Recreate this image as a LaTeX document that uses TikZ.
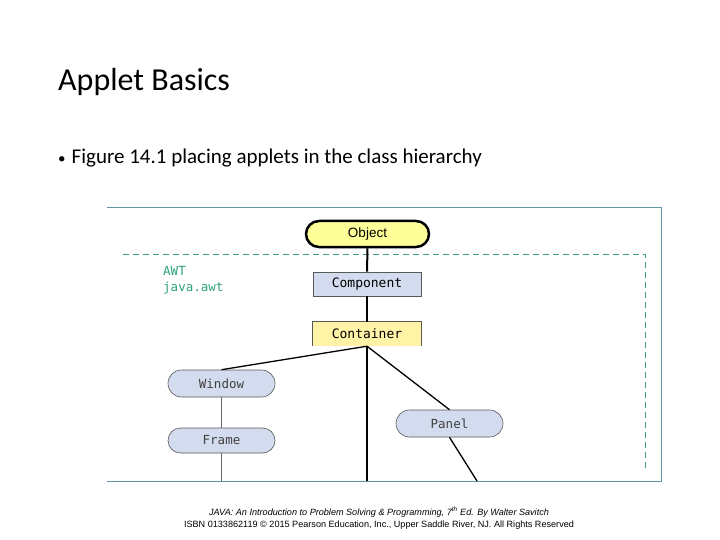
\documentclass[tikz,border=0pt]{standalone}
\usepackage{fontspec}
\setmainfont{Carlito}
\newfontfamily\arialf{Liberation Sans}
\newfontfamily\monof{DejaVu Sans Mono}
\usetikzlibrary{shapes.misc}
\definecolor{framec}{HTML}{5E94A4}
\definecolor{dashc}{HTML}{3E9C88}
\definecolor{awtc}{HTML}{2FA080}
\definecolor{bluef}{HTML}{D3DBEE}
\definecolor{yelf}{HTML}{FFFF99}
\definecolor{contf}{HTML}{FFF3A6}
\begin{document}
\begin{tikzpicture}[x=1pt,y=-1pt,
  pill/.style={rounded rectangle, fill=bluef, draw=black!65, line width=0.6pt, inner sep=0pt, minimum width=107pt, minimum height=27pt, font=\monof\fontsize{12.5}{14}\selectfont, text=black!75},
  rectbox/.style={rectangle, inner sep=0pt, minimum width=108pt, minimum height=24pt, font=\monof\fontsize{13}{14}\selectfont},
  mainline/.style={line width=2pt, black},
  subline/.style={line width=1.3pt, black},
  thinline/.style={line width=0.9pt, black!60}]
\useasboundingbox (0,0) rectangle (720,540);
\fill[white] (0,0) rectangle (720,540);
\node[anchor=west, font=\fontsize{32}{36}\selectfont, inner sep=0pt] (title) at (58,82) {Applet Basics};
\node[anchor=west, font=\fontsize{21}{24}\selectfont, inner sep=0pt] (bullet) at (58,158) {{\fontsize{15}{15}\selectfont\textbullet}\hspace{6pt}Figure 14.1 placing applets in the class hierarchy};
% frames
\draw[framec, line width=1pt] (107,208) -- (661,208) -- (661,481) -- (107,481);
\draw[dashc, line width=1pt, dash pattern=on 6pt off 4pt] (123,254) -- (645,254) -- (645,472);
\node[anchor=north west, align=left, text=awtc, font=\monof\fontsize{12.5}{16}\selectfont, inner sep=0pt] (awt) at (163,266) {AWT\\java.awt};
% nodes
\node[rounded rectangle, fill=yelf, draw=black, line width=2.5pt, minimum width=123pt, minimum height=26pt, inner sep=0pt, font=\arialf\fontsize{13.5}{15}\selectfont] (object) at (367.5,234) {Object};
\node[rectbox, fill=bluef, draw=black!65, line width=0.8pt] (component) at (367,284) {Component};
\node[rectbox, fill=contf] (container) at (367,334) {Container};
\draw[black!65, line width=0.8pt] (container.south west) -- (container.north west) -- (container.north east) -- (container.south east);
\node[pill] (window) at (221.5,383.5) {Window};
\node[pill, minimum height=25pt] (frame) at (221.5,440.5) {Frame};
\node[pill] (panel) at (449.5,423.5) {Panel};
\coordinate (cbot) at (367,481);
\coordinate (fbot) at (221.5,481);
\coordinate (pbot) at (477,481);
% connectors
\draw[mainline] (object.south) -- (component.north);
\draw[mainline] (component.south) -- (container.north);
\draw[mainline] (container.south) -- (cbot);
\draw[subline] (container.south) -- (window.north);
\draw[subline] (container.south) -- (panel.north);
\draw[subline] (panel.south) -- (pbot);
\draw[thinline] (window.south) -- (frame.north);
\draw[thinline] (frame.south) -- (fbot);
% footer
\node[align=center, font=\arialf\fontsize{9.1}{12.5}\selectfont, inner sep=0pt] (footer) at (379,518) {\itshape JAVA: An Introduction to Problem Solving \& Programming, 7\textsuperscript{th} Ed. By Walter Savitch\\ISBN 0133862119 \copyright\ 2015 Pearson Education, Inc., Upper Saddle River, NJ. All Rights Reserved};
\end{tikzpicture}
\end{document}
